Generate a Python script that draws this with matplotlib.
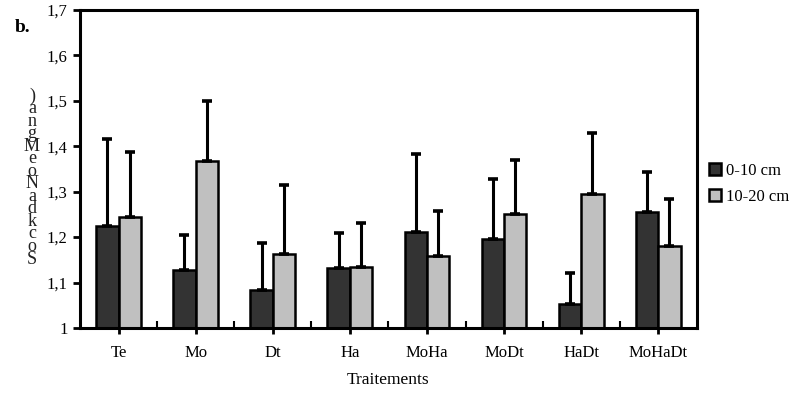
import matplotlib
matplotlib.use('Agg')
import matplotlib.pyplot as plt
import numpy as np
from matplotlib.ticker import FixedLocator, FuncFormatter

# Données
traitements = ['Te', 'Mo', 'Dt', 'Ha', 'MoHa', 'MoDt', 'HaDt', 'MoHaDt']
moy_0_10 = [1.225, 1.128, 1.083, 1.131, 1.211, 1.195, 1.052, 1.255]
err_0_10 = [0.192, 0.077, 0.105, 0.077, 0.171, 0.133, 0.068, 0.089]
moy_10_20 = [1.245, 1.367, 1.163, 1.134, 1.158, 1.251, 1.295, 1.181]
err_10_20 = [0.142, 0.133, 0.151, 0.096, 0.100, 0.119, 0.134, 0.103]
y_ticks = [1.0, 1.1, 1.2, 1.3, 1.4, 1.5, 1.6, 1.7]
ylabel_chars = [')', 'a', 'n', 'g', 'M', 'e', 'o', 'N', 'a', 'd', 'k', 'c', 'o', 'S']

plt.rcParams['font.family'] = ['Liberation Serif', 'DejaVu Serif']

fig = plt.figure(figsize=(8, 3.98), dpi=100)
ax = fig.add_axes([0.1, 0.176, 0.771, 0.799])

x = np.arange(len(traitements))
w = 0.29
err_kw = dict(elinewidth=2.2, capsize=3.5, capthick=2.6, ecolor='black')

ax.bar(x - w / 2, np.array(moy_0_10) - 1, w, bottom=1,
       color='#333333', edgecolor='black', linewidth=1.8,
       yerr=[np.zeros(len(x)), err_0_10], error_kw=err_kw, label='0-10 cm')
ax.bar(x + w / 2, np.array(moy_10_20) - 1, w, bottom=1,
       color='#c0c0c0', edgecolor='black', linewidth=1.8,
       yerr=[np.zeros(len(x)), err_10_20], error_kw=err_kw, label='10-20 cm')

ax.set_xlim(-0.5, len(x) - 0.5)
ax.set_ylim(1.0, 1.7)

ax.set_yticks(y_ticks)
ax.yaxis.set_major_formatter(FuncFormatter(
    lambda v, p: ('%g' % round(v, 1)).replace('.', ',')))
ax.set_xticks(x)
ax.set_xticklabels(traitements)
ax.xaxis.set_minor_locator(FixedLocator(np.arange(0.5, len(x) - 1, 1.0)))

ax.tick_params(axis='y', direction='out', length=5, width=2, labelsize=12, pad=4)
ax.tick_params(axis='x', which='major', direction='out', length=4, width=2,
               labelsize=12, pad=8)
ax.tick_params(axis='x', which='minor', direction='in', length=5, width=1.5)

for s in ax.spines.values():
    s.set_linewidth(2.2)

ax.set_xlabel('Traitements', fontsize=12.5, labelpad=8)

# étiquette de l'axe y (caractères empilés comme sur l'original)
fig.text(0.04, 0.554, '\n'.join(ylabel_chars), fontsize=13, ha='center',
         va='center', linespacing=0.655, color='#222222')

fig.text(0.019, 0.92, 'b.', fontsize=14, fontweight='bold')

fig.legend(loc='center left', bbox_to_anchor=(0.868, 0.538), frameon=False,
           fontsize=12, handlelength=0.7, handleheight=0.7, handletextpad=0.3,
           labelspacing=0.6)

fig.savefig('out.png', dpi=100)
